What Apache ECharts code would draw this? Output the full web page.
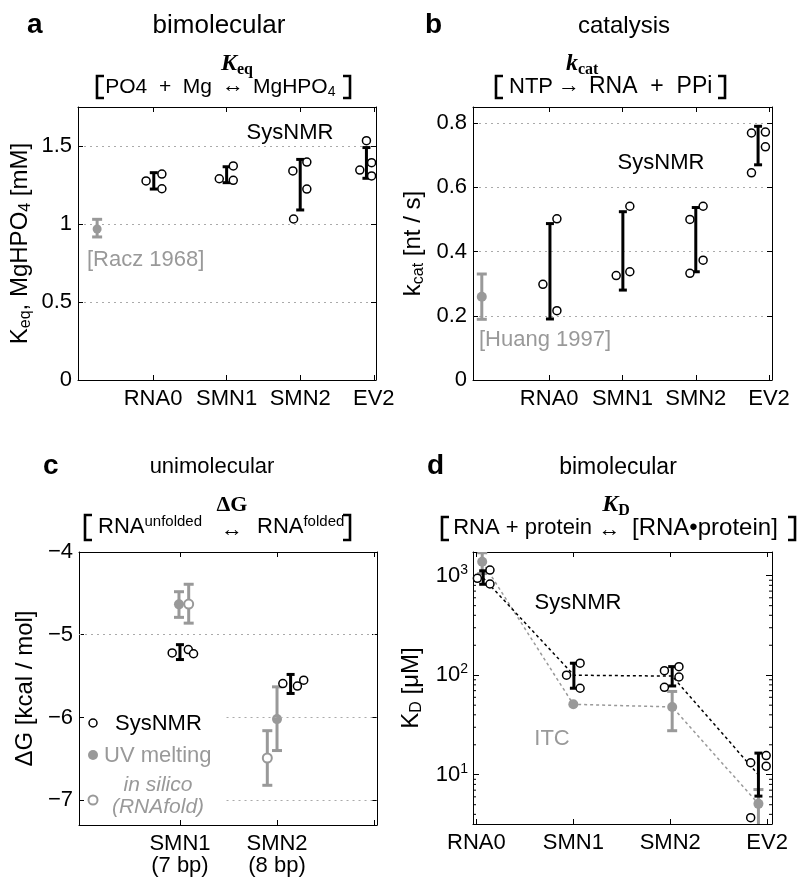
<!DOCTYPE html>
<html><head><meta charset="utf-8">
<script src="https://cdn.jsdelivr.net/npm/echarts@6/dist/echarts.min.js"></script>
<style>html,body{margin:0;padding:0;background:#fff}#c{width:800px;height:889px}</style>
</head><body><div id="c"></div>
<script>
// ---------- categories & ticks ----------
const catsABD = ['RNA0', 'SMN1', 'SMN2', 'EV2'];
const catPosABD = [1, 2, 3, 4];
const catsC = ['SMN1\n(7 bp)', 'SMN2\n(8 bp)'];
const catPosC = [1, 2];
const xTicksC = [1, 2, 3];
const yTicksC = [-7, -6, -5, -4];
const minorTicksD = [4, 5, 6, 7, 8, 9, 20, 30, 40, 50, 60, 70, 80, 90, 200, 300, 400, 500, 600, 700, 800, 900];

// ---------- panel a : Keq ----------
const keqLit = [[0.24, 0.968]];
const keqLitErr = [[0.24, 0.917, 1.03]];
const keqBars = [[1.01, 1.224, 1.329], [2.0, 1.265, 1.367], [3.0, 1.09, 1.414], [3.9, 1.293, 1.49]];
const keqPts = [[0.905, 1.276], [1.12, 1.32], [1.12, 1.226], [1.9, 1.29], [2.09, 1.372], [2.09, 1.28],
  [2.9, 1.34], [3.09, 1.397], [3.09, 1.224], [2.91, 1.032], [3.9, 1.534], [3.81, 1.346], [3.97, 1.393], [3.97, 1.308]];

// ---------- panel b : kcat ----------
const kcatLit = [[0.08, 0.259]];
const kcatLitErr = [[0.08, 0.189, 0.33]];
const kcatBars = [[1.01, 0.19, 0.487], [2.005, 0.28, 0.524], [3.0, 0.337, 0.537], [3.85, 0.67, 0.79]];
const kcatPts = [[0.914, 0.298], [1.105, 0.502], [1.105, 0.216], [1.914, 0.325], [2.1, 0.541], [2.1, 0.337],
  [2.92, 0.5], [3.1, 0.541], [3.1, 0.373], [2.92, 0.332], [3.76, 0.769], [3.95, 0.772], [3.95, 0.726], [3.76, 0.645]];

// ---------- panel c : dG ----------
const dgUV = [[0.99, -4.633], [2.0, -6.02]];
const dgUVErr = [[0.99, -4.79, -4.48], [2.0, -6.40, -5.63]];
const dgSilico = [[1.09, -4.63], [1.9, -6.49]];
const dgSilicoErr = [[1.09, -4.86, -4.39], [1.9, -6.82, -6.16]];
const dgBars = [[1.0, -5.3, -5.12], [2.14, -5.71, -5.48]];
const dgPts = [[0.92, -5.22], [1.086, -5.18], [1.14, -5.23], [2.06, -5.59], [2.21, -5.62], [2.275, -5.55]];
const dgGridFull = [-5];
const dgGridPartial = [-6, -7];
const dgGridStart = 1.48;

// ---------- panel d : KD ----------
const kdITC = [[1.06, 1380], [2.0, 51], [3.02, 48], [3.91, 5.1]];
const kdITCErr = [[1.06, 1050, 1700], [3.02, 27.7, 68.7], [3.91, 3.0, 7.1]];
const kdBars = [[1.07, 820, 1120], [2.006, 74, 132], [3.02, 78, 122], [3.91, 6.1, 16.5]];
const kdPts = [[1.01, 942], [1.14, 1140], [1.14, 825], [1.93, 100], [2.07, 132], [2.07, 74],
  [2.94, 111], [3.09, 122], [3.09, 96], [2.94, 75.5], [3.83, 13.2], [3.99, 15.6], [3.99, 12.2], [3.83, 3.7]];
const kdNMRLine = [[1.07, 950], [2.006, 100], [3.02, 98], [3.91, 10]];

// ---------- helpers ----------
const F = 'Liberation Sans';
const SERIF = 'Liberation Serif';
const GRAY = '#999';
const GRIDLINE = { color: '#aaa', type: [2, 4], width: 1 };
const TICKFS = 22;

function xAx(gi, min, max, ticks, labels, names, top) {
  return {
    type: 'value', gridIndex: gi, min: min, max: max, position: top ? 'top' : 'bottom',
    axisLine: { show: true, onZero: false, lineStyle: { color: '#000', width: 1 } },
    axisTick: { show: true, inside: true, length: 5, customValues: ticks, lineStyle: { color: '#000' } },
    axisLabel: {
      show: !top, customValues: labels, color: '#000', fontSize: TICKFS, margin: 8, lineHeight: 22, fontFamily: F,
      formatter: function (v) { const i = labels.indexOf(v); return i >= 0 ? names[i] : ''; }
    },
    splitLine: { show: false }
  };
}
function nameStyle() {
  return {
    color: '#000', fontSize: 24, fontFamily: F,
    rich: {
      n: { fontSize: 24, fontFamily: F, lineHeight: 28, color: '#000' },
      s: { fontSize: 16, fontFamily: F, lineHeight: 16, verticalAlign: 'bottom', color: '#000' }
    }
  };
}
function yAx(gi, base, right) {
  const o = {
    type: 'value', gridIndex: gi, position: right ? 'right' : 'left',
    nameMoveOverlap: false,
    axisLine: { show: true, onZero: false, lineStyle: { color: '#000', width: 1 } },
    axisTick: { show: true, inside: true, length: 5, lineStyle: { color: '#000' } },
    axisLabel: { show: !right, color: '#000', fontSize: TICKFS, margin: 6, fontFamily: F, showMaxLabel: false },
    splitLine: { show: false }
  };
  for (const k in base) {
    if (typeof base[k] === 'object' && !Array.isArray(base[k]) && o[k]) o[k] = Object.assign({}, o[k], base[k]);
    else o[k] = base[k];
  }
  if (right) { delete o.name; o.splitLine = { show: false }; o.axisLabel.show = false; }
  return o;
}
function errSeries(ai, data, color, cap, lw, z) {
  return {
    type: 'custom', xAxisIndex: ai, yAxisIndex: ai, data: data, clip: true, z: z || 3, silent: true,
    encode: { x: 0, y: [1, 2] },
    renderItem: function (params, api) {
      const x = api.value(0), lo = api.value(1), hi = api.value(2);
      const a = api.coord([x, lo]), b = api.coord([x, hi]);
      const st = { stroke: color, lineWidth: lw };
      return {
        type: 'group', children: [
          { type: 'line', shape: { x1: a[0], y1: a[1], x2: b[0], y2: b[1] }, style: st },
          { type: 'line', shape: { x1: a[0] - cap, y1: a[1], x2: a[0] + cap, y2: a[1] }, style: st },
          { type: 'line', shape: { x1: b[0] - cap, y1: b[1], x2: b[0] + cap, y2: b[1] }, style: st }
        ]
      };
    }
  };
}
function dots(ai, data, size, fill, stroke, bw, z) {
  return {
    type: 'scatter', xAxisIndex: ai, yAxisIndex: ai, data: data, symbol: 'circle', symbolSize: size,
    z: z || 4, silent: true,
    itemStyle: { color: fill, borderColor: stroke, borderWidth: bw, opacity: 1 }
  };
}
function T(x, y, text, opt) {
  const st = Object.assign({
    text: text, fill: '#000', textFill: '#000', fontSize: 20, fontFamily: F,
    align: 'center', verticalAlign: 'middle', textAlign: 'center', textVerticalAlign: 'middle'
  }, opt || {});
  if (opt && opt.align) st.textAlign = opt.align;
  if (opt && opt.fill) st.textFill = opt.fill;
  return { type: 'text', x: x, y: y, z: 10, silent: true, style: st };
}
function B(x, t, b, side) {
  const d = side === 'L' ? 7 : -7;
  return {
    type: 'polyline', z: 10, silent: true,
    shape: { points: [[x + d, t], [x, t], [x, b], [x + d, b]] },
    style: { stroke: '#000', lineWidth: 2.6, fill: null }
  };
}
function C(x, y, r, fill, stroke, lw) {
  return { type: 'circle', z: 10, silent: true, shape: { cx: x, cy: y, r: r }, style: { fill: fill, stroke: stroke, lineWidth: lw } };
}
function richSub(size, subSize, family, weight, style) {
  return {
    n: { fontSize: size, fontFamily: family || F, fontWeight: weight || 'normal', fontStyle: style || 'normal', lineHeight: size + 4 },
    s: { fontSize: subSize, fontFamily: family || F, fontWeight: weight || 'normal', lineHeight: subSize, verticalAlign: 'bottom' },
    u: { fontSize: subSize, fontFamily: family || F, fontWeight: weight || 'normal', lineHeight: subSize, verticalAlign: 'top' }
  };
}
const keRich = {
  k: { fontFamily: SERIF, fontSize: 24, fontWeight: 'bold', fontStyle: 'italic', lineHeight: 28 },
  s: { fontFamily: SERIF, fontSize: 16, fontWeight: 'bold', lineHeight: 16, verticalAlign: 'bottom' }
};

// ---------- option ----------
const option = {
  animation: false,
  backgroundColor: '#fff',
  textStyle: { fontFamily: F },
  grid: [
    { left: 78, top: 107, width: 298, height: 273, outerBoundsMode: 'none' },
    { left: 473, top: 107, width: 299, height: 273, outerBoundsMode: 'none' },
    { left: 79, top: 552, width: 298, height: 273, outerBoundsMode: 'none' },
    { left: 473, top: 552, width: 299, height: 272, outerBoundsMode: 'none' }
  ],
  xAxis: [
    xAx(0, -0.02, 4.03, catPosABD, catPosABD, catsABD, false),
    xAx(1, -0.04, 4.04, catPosABD, catPosABD, catsABD, false),
    xAx(2, -0.04, 3.03, xTicksC, catPosC, catsC, false),
    xAx(3, 0.965, 4.05, catPosABD, catPosABD, catsABD, false),
    xAx(0, -0.02, 4.03, catPosABD, catPosABD, catsABD, true),
    xAx(1, -0.04, 4.04, catPosABD, catPosABD, catsABD, true),
    xAx(2, -0.04, 3.03, xTicksC, catPosC, catsC, true),
    xAx(3, 0.965, 4.05, catPosABD, catPosABD, catsABD, true)
  ],
  yAxis: [
    yAx(0, { min: 0, max: 1.75, interval: 0.5, name: '{n|K}{s|eq}{n|, MgHPO}{s|4}{n| [mM]}', nameLocation: 'middle', nameGap: 44, nameTextStyle: nameStyle(), splitLine: { show: true, lineStyle: GRIDLINE } }, false),
    yAx(1, { min: 0, max: 0.85, interval: 0.2, name: '{n|k}{s|cat}{n| [nt / s]}', nameLocation: 'middle', nameGap: 46, nameTextStyle: nameStyle(), splitLine: { show: true, lineStyle: GRIDLINE } }, false),
    yAx(2, {
      min: -7.3, max: -4, name: 'ΔG [kcal / mol]', nameLocation: 'middle', nameGap: 42, nameTextStyle: nameStyle(),
      axisTick: { customValues: yTicksC },
      axisLabel: { customValues: yTicksC, showMaxLabel: true, formatter: function (v) { return v < 0 ? '\u2212' + Math.abs(v) : String(v); } }
    }, false),
    yAx(3, {
      type: 'log', logBase: 10, min: 3.2, max: 1730, name: '{n|K}{s|D}{n| [μM]}', nameLocation: 'middle', nameGap: 48, nameTextStyle: nameStyle(),
      axisTick: { length: 6 },
      axisLabel: {
        margin: 5,
        formatter: function (v) {
          const e = Math.log10(v);
          if (Math.abs(e - Math.round(e)) > 1e-6) return '';
          return '{n|10}{u|' + Math.round(e) + '}';
        },
        rich: {
          n: { fontSize: TICKFS, fontFamily: F, lineHeight: 26, color: '#000' },
          u: { fontSize: 14, fontFamily: F, lineHeight: 14, verticalAlign: 'top', color: '#000' }
        }
      }
    }, false),
    yAx(0, { min: 0, max: 1.75, interval: 0.5 }, true),
    yAx(1, { min: 0, max: 0.85, interval: 0.2 }, true),
    yAx(2, { min: -7.3, max: -4, axisTick: { customValues: yTicksC }, axisLabel: { customValues: yTicksC } }, true),
    yAx(3, { type: 'log', logBase: 10, min: 3.2, max: 1730, axisTick: { length: 6 } }, true)
  ],
  series: [
    // a
    errSeries(0, keqLitErr, GRAY, 5, 3),
    dots(0, keqLit, 9, GRAY, GRAY, 0),
    errSeries(0, keqBars, '#000', 4, 3),
    dots(0, keqPts, 8, '#fff', '#000', 1.5),
    // b
    errSeries(1, kcatLitErr, GRAY, 5, 3),
    dots(1, kcatLit, 10, GRAY, GRAY, 0),
    errSeries(1, kcatBars, '#000', 4, 3),
    dots(1, kcatPts, 8, '#fff', '#000', 1.5),
    // c grid lines
    {
      type: 'scatter', xAxisIndex: 2, yAxisIndex: 2, data: [], z: 1, silent: true,
      markLine: {
        silent: true, symbol: 'none', label: { show: false }, lineStyle: GRIDLINE, animation: false,
        data: dgGridFull.map(function (v) { return { yAxis: v }; }).concat(
          dgGridPartial.map(function (v) { return [{ coord: [dgGridStart, v] }, { coord: [3.03, v] }]; }))
      }
    },
    errSeries(2, dgUVErr, GRAY, 5, 3),
    errSeries(2, dgSilicoErr, GRAY, 5, 3),
    dots(2, dgUV, 10, GRAY, GRAY, 0),
    dots(2, dgSilico, 9, '#fff', GRAY, 2),
    errSeries(2, dgBars, '#000', 4, 3),
    dots(2, dgPts, 8, '#fff', '#000', 1.5),
    // d
    {
      type: 'custom', xAxisIndex: 3, yAxisIndex: 3, silent: true, z: 1, clip: false,
      data: minorTicksD.map(function (v) { return [1, v]; }),
      renderItem: function (params, api) {
        const cs = params.coordSys;
        const y = api.coord([1, api.value(1)])[1];
        const st = { stroke: '#000', lineWidth: 1 };
        return {
          type: 'group', children: [
            { type: 'line', shape: { x1: cs.x, y1: y, x2: cs.x + 3, y2: y }, style: st },
            { type: 'line', shape: { x1: cs.x + cs.width - 3, y1: y, x2: cs.x + cs.width, y2: y }, style: st }
          ]
        };
      }
    },
    { type: 'line', xAxisIndex: 3, yAxisIndex: 3, data: kdITC, symbol: 'none', silent: true, z: 2, lineStyle: { color: GRAY, width: 1.5, type: [3, 3] } },
    { type: 'line', xAxisIndex: 3, yAxisIndex: 3, data: kdNMRLine, symbol: 'none', silent: true, z: 2, lineStyle: { color: '#000', width: 1.5, type: [3, 3] } },
    errSeries(3, kdITCErr, GRAY, 5, 3),
    dots(3, kdITC, 10, GRAY, GRAY, 0),
    errSeries(3, kdBars, '#000', 4, 3),
    dots(3, kdPts, 8, '#fff', '#000', 1.5)
  ],
  graphic: {
    elements: [
      // panel letters
      T(27, 25, 'a', { fontSize: 28, fontWeight: 'bold', align: 'left' }),
      T(425, 25, 'b', { fontSize: 28, fontWeight: 'bold', align: 'left' }),
      T(43, 466, 'c', { fontSize: 28, fontWeight: 'bold', align: 'left' }),
      T(427, 466, 'd', { fontSize: 28, fontWeight: 'bold', align: 'left' }),
      // titles
      T(219, 26, 'bimolecular', { fontSize: 26 }),
      T(624, 26, 'catalysis', { fontSize: 24 }),
      T(212, 467, 'unimolecular', { fontSize: 22 }),
      T(618, 468, 'bimolecular', { fontSize: 23 }),
      // reaction a
      B(97, 76, 98, 'L'), B(350, 76, 98, 'R'),
      T(212, 87, 'PO4  +  Mg', { fontSize: 21, align: 'right' }),
      T(233, 86, '↔', { fontSize: 22 }),
      T(237, 64, '{k|K}{s|eq}', { rich: keRich }),
      T(253, 87, '{n|MgHPO}{s|4}', { align: 'left', rich: richSub(21, 14) }),
      // reaction b
      B(496, 76, 98, 'L'), B(725, 76, 98, 'R'),
      T(553, 87, 'NTP', { fontSize: 22, align: 'right' }),
      T(569, 86, '→', { fontSize: 22 }),
      T(566, 64, '{k|k}{s|cat}', { align: 'left', rich: keRich }),
      T(589, 87, 'RNA  +  PPi', { fontSize: 23, align: 'left' }),
      // reaction c
      B(85, 515, 540, 'L'), B(350, 515, 540, 'R'),
      T(202, 527, '{n|RNA}{u|unfolded}', { align: 'right', rich: richSub(22, 15) }),
      T(232, 505, 'ΔG', { fontFamily: SERIF, fontWeight: 'bold', fontSize: 22 }),
      T(232, 530, '↔', { fontSize: 22 }),
      T(257, 527, '{n|RNA}{u|folded}', { align: 'left', rich: richSub(22, 15) }),
      // reaction d
      B(442, 517, 540, 'L'), B(795, 517, 540, 'R'),
      T(592, 528, 'RNA + protein', { fontSize: 22, align: 'right' }),
      T(609.5, 530, '↔', { fontSize: 22 }),
      T(616, 505, '{k|K}{s|D}', { rich: keRich }),
      T(632, 528, '[RNA•protein]', { fontSize: 24, align: 'left' }),
      // annotations
      T(290, 133, 'SysNMR', { fontSize: 22 }),
      T(87, 260, '[Racz 1968]', { fontSize: 22, align: 'left', fill: GRAY }),
      T(661, 163, 'SysNMR', { fontSize: 22 }),
      T(479, 340, '[Huang 1997]', { fontSize: 22, align: 'left', fill: GRAY }),
      T(578, 603, 'SysNMR', { fontSize: 22 }),
      T(552, 739, 'ITC', { fontSize: 22, fill: GRAY }),
      // legend c
      C(93, 723, 4, '#fff', '#000', 1.5),
      T(115, 724, 'SysNMR', { fontSize: 22, align: 'left' }),
      C(93, 755, 5, GRAY, GRAY, 0),
      T(104, 756, 'UV melting', { fontSize: 22, align: 'left', fill: GRAY }),
      C(93, 800, 4.5, '#fff', GRAY, 2),
      T(158, 785, 'in silico', { fontSize: 21, fontStyle: 'italic', fill: GRAY }),
      T(158, 807, '(RNAfold)', { fontSize: 21, fontStyle: 'italic', fill: GRAY })
    ]
  }
};
const chart = echarts.init(document.getElementById('c'), null, { renderer: 'canvas', width: 800, height: 889 });
chart.setOption(option);
</script>
</body></html>
